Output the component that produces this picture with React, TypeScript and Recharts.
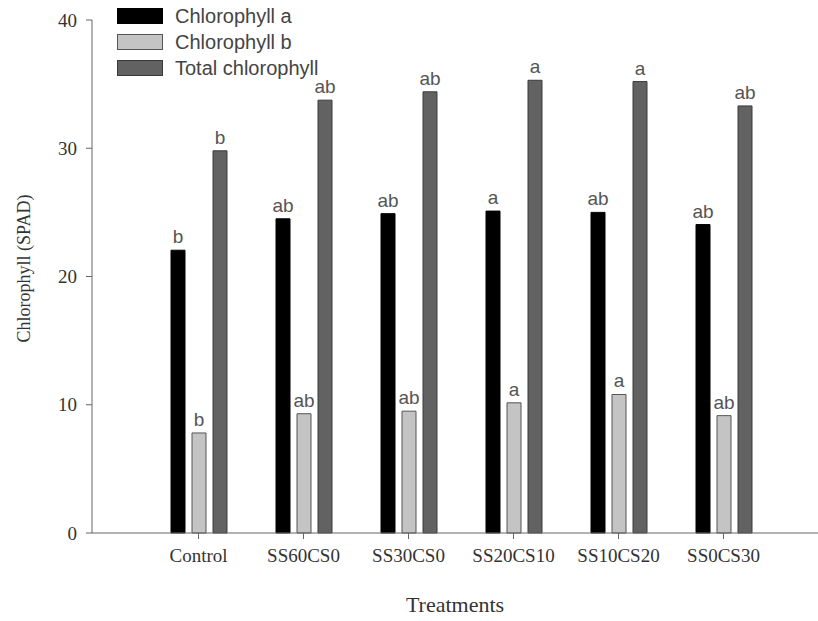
import React from 'react';
import { BarChart, Bar, XAxis, YAxis, Legend, LabelList, Label } from 'recharts';

const treatments = ['Control', 'SS60CS0', 'SS30CS0', 'SS20CS10', 'SS10CS20', 'SS0CS30'];
const chlA = [22.05, 24.5, 24.9, 25.1, 25.0, 24.05];
const chlB = [7.8, 9.3, 9.5, 10.15, 10.8, 9.15];
const chlTotal = [29.8, 33.75, 34.4, 35.3, 35.2, 33.3];
const lettersA = ['b', 'ab', 'ab', 'a', 'ab', 'ab'];
const lettersB = ['b', 'ab', 'ab', 'a', 'a', 'ab'];
const lettersTotal = ['b', 'ab', 'ab', 'a', 'a', 'ab'];
const yTicks = [0, 10, 20, 30, 40];

const seriesNames = ['Chlorophyll a', 'Chlorophyll b', 'Total chlorophyll'];
const seriesColors = ['#000000', '#c4c4c4', '#626262'];
const seriesStrokes = ['#000000', '#555555', '#3a3a3a'];

const data = treatments.map((t, i) => ({
  name: t,
  a: chlA[i],
  b: chlB[i],
  total: chlTotal[i],
  la: lettersA[i],
  lb: lettersB[i],
  lt: lettersTotal[i],
}));

const serif = '"Liberation Serif", "DejaVu Serif", serif';
const sans = '"Liberation Sans", Arial, sans-serif';

const labelStyle = { fill: '#555', fontSize: 19, fontFamily: sans };

const LegendContent = () => (
  <div style={{ fontFamily: sans }}>
    {seriesNames.map((n, i) => (
      <div key={n} style={{ display: 'flex', alignItems: 'center', height: 26 }}>
        <div
          style={{
            width: 44,
            height: 14,
            background: seriesColors[i],
            border: `1px solid ${seriesStrokes[i]}`,
            marginRight: 12,
          }}
        />
        <span style={{ fontSize: 20, color: '#444', lineHeight: '20px' }}>{n}</span>
      </div>
    ))}
  </div>
);

const YLabel = (props: any) => {
  const vb = props.viewBox || { x: 32, y: 20, width: 60, height: 513 };
  const cx = vb.x - 8;
  const cy = vb.y + vb.height / 2 - 8;
  return (
    <text
      x={cx}
      y={cy}
      transform={`rotate(-90 ${cx} ${cy})`}
      textAnchor="middle"
      dominantBaseline="central"
      fontFamily={serif}
      fontSize={18}
      fill="#333"
    >
      Chlorophyll (SPAD)
    </text>
  );
};

export default function App() {
  return (
    <div style={{ position: 'absolute', left: 0, top: 0, background: '#fff' }}>
      <BarChart
        width={818}
        height={621}
        data={data}
        margin={{ top: 20, right: 0, left: 32, bottom: 58 }}
        barSize={14}
        barGap={7}
      >
        <XAxis
          dataKey="name"
          padding={{ left: 54, right: 42 }}
          height={30}
          stroke="#666"
          tickSize={6}
          tickMargin={10}
          tick={{ fill: '#333', fontSize: 19, fontFamily: serif }}
          interval={0}
        >
          <Label
            value="Treatments"
            position="bottom"
            offset={33}
            style={{ fill: '#333', fontSize: 22, fontFamily: serif }}
          />
        </XAxis>
        <YAxis
          width={60}
          domain={[0, 40]}
          ticks={yTicks}
          stroke="#666"
          tickSize={6}
          tickMargin={9}
          tick={{ fill: '#333', fontSize: 19, fontFamily: serif }}
          label={{ content: YLabel }}
        />
        <Legend
          verticalAlign="middle"
          align="center"
          layout="vertical"
          content={LegendContent}
          wrapperStyle={{ left: 117, top: 3, width: 300 }}
        />
        <Bar dataKey="a" name={seriesNames[0]} fill={seriesColors[0]} stroke={seriesStrokes[0]} isAnimationActive={false}>
          <LabelList dataKey="la" position="top" offset={7} style={labelStyle} />
        </Bar>
        <Bar dataKey="b" name={seriesNames[1]} fill={seriesColors[1]} stroke={seriesStrokes[1]} isAnimationActive={false}>
          <LabelList dataKey="lb" position="top" offset={7} style={labelStyle} />
        </Bar>
        <Bar dataKey="total" name={seriesNames[2]} fill={seriesColors[2]} stroke={seriesStrokes[2]} isAnimationActive={false}>
          <LabelList dataKey="lt" position="top" offset={7} style={labelStyle} />
        </Bar>
      </BarChart>
    </div>
  );
}
